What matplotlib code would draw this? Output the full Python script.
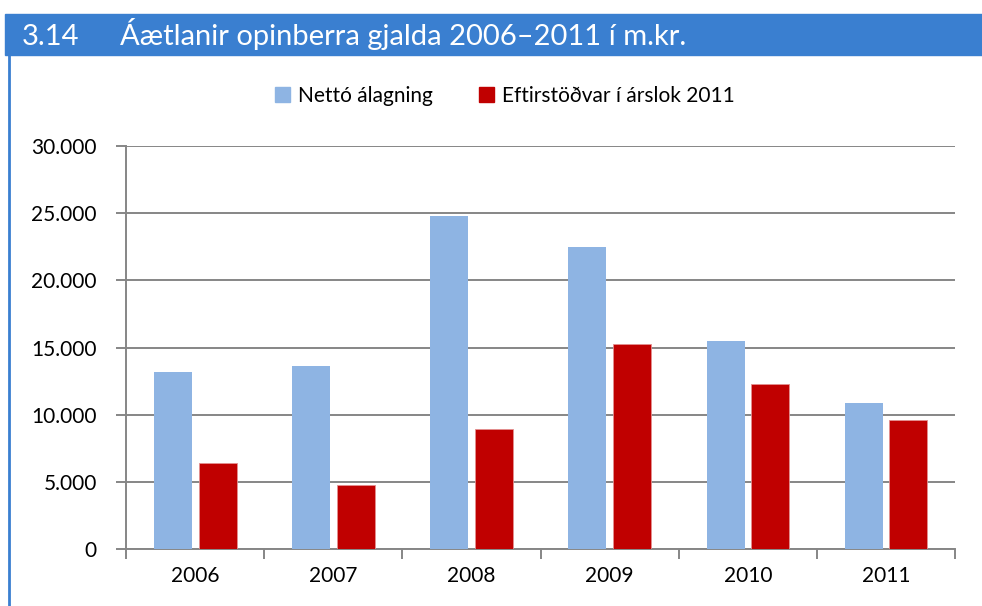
import numpy as np
import matplotlib.pyplot as plt
from matplotlib.patches import Rectangle
from matplotlib.lines import Line2D

plt.rcParams['font.family'] = ['Lato', 'DejaVu Sans']

years = ['2006', '2007', '2008', '2009', '2010', '2011']
netto = [13200, 13650, 24800, 22500, 15500, 10900]
eftirst = [6450, 4800, 8950, 15250, 12280, 9650]
yticks = [0, 5000, 10000, 15000, 20000, 25000, 30000]
ylabels = ['0', '5.000', '10.000', '15.000', '20.000', '25.000', '30.000']

blue = '#8EB4E3'
red = '#C00000'
grid = '#868686'

fig = plt.figure(figsize=(9.82, 6.06), dpi=100)
ax = fig.add_axes([126/982, 56.7/606, (955-126)/982, (549.3-146)/606])

x = np.arange(len(years))
w = 0.275
ax.bar(x - 0.16, netto, w, color=blue, zorder=3)
ax.bar(x + 0.163, eftirst, w, color=red, edgecolor='#E39090', linewidth=0.6, zorder=3)

ax.set_xlim(-0.5, len(years) - 0.5)
ax.set_ylim(0, 30000)
ax.set_yticks(yticks)
ax.set_yticklabels(ylabels, fontsize=15)
ax.yaxis.grid(True, color=grid, linewidth=1.4, zorder=0)
ax.set_xticks(np.arange(-0.5, len(years)), minor=False)
ax.set_xticklabels([])
ax.set_xticks(x, minor=True)
ax.set_xticklabels(years, minor=True, fontsize=15)
ax.tick_params(axis='x', which='major', length=7, color=grid, width=1.4, direction='out')
ax.tick_params(axis='x', which='minor', length=0, pad=12)
ax.tick_params(axis='y', length=7, color=grid, width=1.4, pad=14)
for s in ['top', 'right']:
    ax.spines[s].set_visible(False)
for s in ['left', 'bottom']:
    ax.spines[s].set_color(grid)
    ax.spines[s].set_linewidth(1.4)

# legend
handles = [Rectangle((0, 0), 1, 1, color=blue), Rectangle((0, 0), 1, 1, color=red)]
fig.legend(handles, ['Nettó álagning', 'Eftirstöðvar í árslok 2011'],
           loc='center', bbox_to_anchor=(505/982, 1 - 96/606), ncol=2, frameon=False,
           fontsize=15, handlelength=0.7, handleheight=0.7, handletextpad=0.4,
           columnspacing=2.2)

# title bar and frame
fig.patches.append(Rectangle((5/982, 1 - 55/606), 1, 41/606, transform=fig.transFigure,
                             color='#3A7FD0', zorder=0))
fig.lines.append(Line2D([8.5/982, 8.5/982], [0, 1 - 55/606], transform=fig.transFigure,
                        color='#3A7FD0', linewidth=2))
fig.text(22/982, 1 - 45/606, '3.14', color='white', fontsize=21, va='baseline')
fig.text(120/982, 1 - 45/606, 'Áætlanir opinberra gjalda 2006–2011 í m.kr.',
         color='white', fontsize=21, va='baseline')

fig.savefig('out.png', dpi=100)
